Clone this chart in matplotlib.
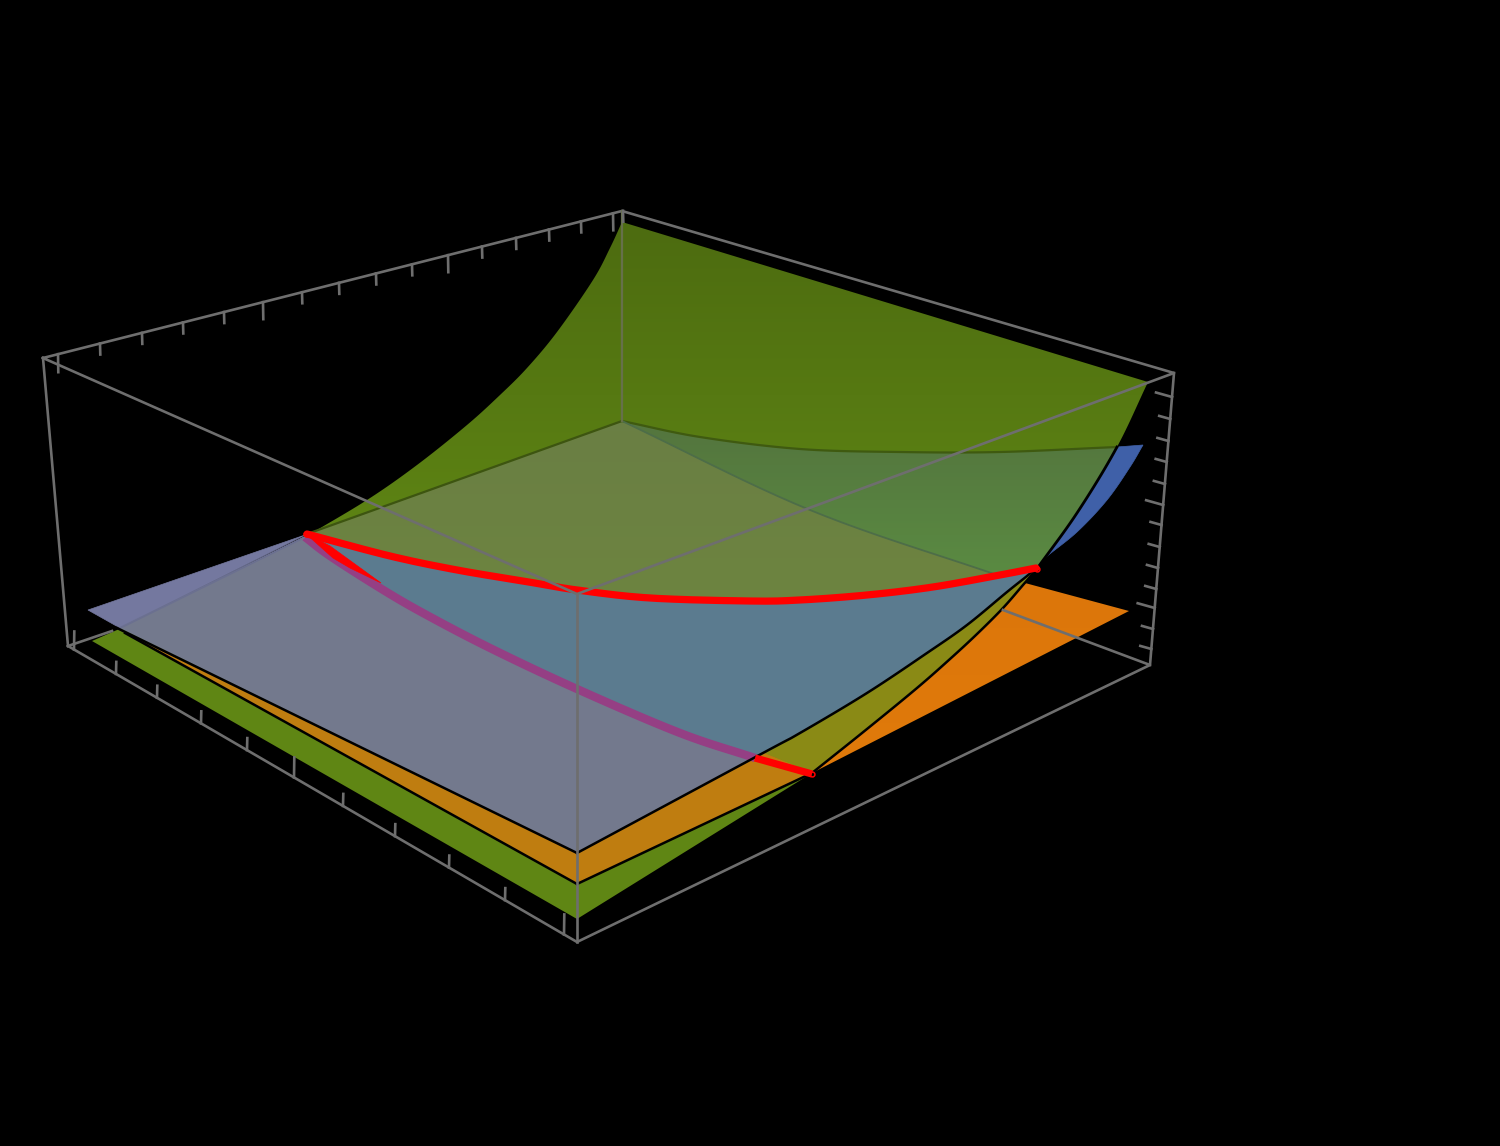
import numpy as np
import matplotlib
matplotlib.use('Agg')
import matplotlib.pyplot as plt
from matplotlib.colors import LinearSegmentedColormap
from matplotlib.patches import Polygon

# everything, in image pixels
red_top = [(307,534),(390,556),(457,570),(523,581),(577,590),(650,598),(750,601),(800,600),(867,595),(933,587),(1000,575),(1036,568)]
red_low = [(305,537),(330,556),(380,588),(423,613),(490,648),(577,689),(680,733),(755,758)]
red_end = [(755,758),(812,774)]
red_wedge = [(305,533),(330,546),(381,583),(350,568),(333,558)]
red_rings = [(1037,569),(812,774),(306,534)]
green_right_edge = [(1148,382),(1117,447),(1077,513),(1036,570)]
green_left_edge = [(305,537),(367,500),(417,465),(467,425),(500,395),(527,368),(557,332),(593,280),(610,248),(622,222)]
back_arc = [(622,421),(700,437),(800,449),(900,452),(1000,452),(1117,447)]
fold_line = [(622,421),(810,510),(1000,576)]
blue_front = [(577,853),(763,753),(800,733),(867,693),(927,653),(967,625),(1007,592),(1027,576),(1036,568)]
orange_curve = [(812,773),(867,729),(917,688),(950,659),(977,634),(1003,608),(1023,585),(1036,570)]
orange_far = [(1025,583),(1129,611),(812,773)]
blue_tail_out = [(1143,445),(1130,467),(1107,500),(1077,532),(1045,558),(1036,570)]
green_front = [(812,773),(577,919),(92,641),(117,630)]
band_left = [(117,628),(577,853),(577,884),(133,637)]
blue_tip = [(88,610),(305,535),(120,628)]
blue_main = [(120,628),(305,537)]

box_top = [(43,358),(622,211),(1174,373),(577,594),(43,358)]
box_bottom = [(68,646),(577,942),(1150,665),(1003,610)]
box_bottom_left = [(68,646),(112,631)]
box_sides = [((43,358),(68,646)),((1174,373),(1150,665)),((577,594),(577,942))]
box_back = [(622,211),(622,421)]

top_ticks_x = [58,100,142,183,224,263,302,339,376,412,448,482,516,549,581,613,623]
top_ticks_len = [18,11,11,11,11,17,11,11,11,11,17,11,11,11,11,17,11]
front_ticks_x = [74,116,157,201,247,294,343,395,449,505,564]
front_ticks_len = [18,12,12,12,12,20,12,12,12,12,20]
right_ticks_y = [397,419,441,462,484,505,525,547,568,589,608,629,649]
right_ticks_len = [16,11,11,11,11,17,11,11,11,11,17,11,11]

def smooth(pts, n=12):
    # catmull-rom through the read points so curves don't look like polylines
    p = np.array(pts, dtype=float)
    if len(p) < 3:
        return [tuple(q) for q in p]
    p = np.vstack([2*p[0]-p[1], p, 2*p[-1]-p[-2]])
    out = []
    for i in range(1, len(p)-2):
        for t in np.linspace(0, 1, n, endpoint=False):
            out.append(0.5*((2*p[i]) + (p[i+1]-p[i-1])*t
                + (2*p[i-1]-5*p[i]+4*p[i+1]-p[i+2])*t**2
                + (3*p[i]-p[i-1]-3*p[i+1]+p[i+2])*t**3))
    out.append(p[-2])
    return [tuple(q) for q in out]

def xy(pts):
    a = np.array(pts, dtype=float)
    return a[:,0], a[:,1]

def fill(ax, pts, color, z):
    ax.add_patch(Polygon(pts, closed=True, fc=color, ec=color, lw=0.5, zorder=z))

def gradient(ax, pts, c1, c2, y1, y2, z):
    cm = LinearSegmentedColormap.from_list('g', [c1, c2])
    g = np.clip((np.arange(1146) - y1) / (y2 - y1), 0, 1).reshape(-1, 1)
    im = ax.imshow(g, cmap=cm, vmin=0, vmax=1, extent=(0, 1500, 1146, 0), aspect='auto', zorder=z)
    im.set_clip_path(Polygon(pts, closed=True, transform=ax.transData))

s_top = smooth(red_top)
s_low = smooth(red_low)
s_right = smooth(green_right_edge)
s_left = smooth(green_left_edge)
s_arc = smooth(back_arc)
s_front = smooth(blue_front)
s_curve = smooth(orange_curve)
s_tail = smooth(blue_tail_out)
s_fold = smooth(fold_line)

fig = plt.figure(figsize=(15, 11.46), dpi=100, facecolor='black')
ax = fig.add_axes([0, 0, 1, 1])
ax.set_facecolor('black')

# green surface, whole outline first
green_all = [(622,222)] + s_right + s_curve[::-1] + green_front + s_left
gradient(ax, green_all, '#4d6c10', '#5f8614', 230, 560, 1)

fill(ax, [(1117,447)] + s_tail, '#3f60a8', 2)
gradient(ax, s_curve + orange_far, '#dc760b', '#e07a0a', 580, 770, 3)

# olive wedge and orange band at the front
fill(ax, s_front[12:] + s_curve[::-1], '#8a8a15', 4)
fill(ax, band_left, '#bf7d10', 4)
fill(ax, [(577,853),(763,753),(812,773),(577,884)], '#bf7d10', 4)

# part of the surface seen through the plane
arc_end = s_right[s_right.index(min(s_right, key=lambda q: abs(q[1]-447))):]
gradient(ax, s_fold + s_top[::-1], '#6a7f44', '#6d8440', 430, 590, 5)
gradient(ax, s_arc + arc_end + s_fold[::-1], '#54763e', '#5a8a42', 430, 570, 5)

# translucent plane
fill(ax, blue_tip, '#74789f', 6)
fill(ax, [blue_main[0]] + s_low + [(763,753),(577,853)], '#73798d', 6)
fill(ax, s_top + s_front[::-1] + [(763,753)] + s_low[::-1], '#5b7b8f', 6)
# the front edge below the red end belongs to the grey part
fill(ax, [(577,853),(763,753),(755,758),(577,690)], '#73798d', 6)

ax.plot(*xy(s_low), color='#953f84', lw=6, solid_capstyle='butt', zorder=7)
fill(ax, red_wedge, '#ff0000', 8)
ax.plot(*xy(s_top), color='#ff0000', lw=5.2, solid_capstyle='round', zorder=8)
ax.plot(*xy(red_end), color='#ff0000', lw=5.2, solid_capstyle='butt', zorder=8)
ax.plot(*xy(red_rings), ls='none', marker='o', ms=3.5, mfc='none', mec='#ff0000', mew=1.1, zorder=8)

# edges
ax.plot(*xy(blue_main), color='#6b7090', lw=1.5, zorder=7)
ax.plot(*xy(s_arc), color='#3f5a10', lw=1.6, zorder=7)
ax.plot(*xy([back_arc[0], red_top[0]]), color='#3d5510', lw=1.6, zorder=7)
ax.plot(*xy(s_fold), color='#4d6d48', lw=1.3, zorder=7)
ax.plot(*xy(arc_end), color='black', lw=2, zorder=7)
ax.plot(*xy(s_front), color='black', lw=1.8, zorder=7)
ax.plot(*xy(s_curve), color='black', lw=1.8, zorder=7)
ax.plot(*xy([(577,884), orange_curve[0]]), color='black', lw=1.8, zorder=7)
ax.plot(*xy([(117,628),(577,853)]), color='black', lw=1.8, zorder=7)
ax.plot(*xy([(125,633),(577,884)]), color='black', lw=1.8, zorder=7)

# box
gray = '#6e6e6e'
ax.plot(*xy(box_top), color=gray, lw=1.9, zorder=9)
ax.plot(*xy(box_bottom), color=gray, lw=1.9, zorder=9)
ax.plot(*xy(box_bottom_left), color=gray, lw=1.9, zorder=9)
for s in box_sides:
    ax.plot(*xy(s), color=gray, lw=1.9, zorder=9)
ax.plot(*xy(box_back), color='#66704a', lw=1.6, zorder=9)

# ticks sit on the box edges
for x, n in zip(top_ticks_x, top_ticks_len):
    y = 358 + (x - 43) * (211 - 358) / (622 - 43)
    ax.plot([x, x + 0.3], [y, y + n], color=gray, lw=1.9, zorder=9)
for x, n in zip(front_ticks_x, front_ticks_len):
    y = 646 + (x - 68) * (942 - 646) / (577 - 68)
    ax.plot([x, x + 0.3], [y, y - n], color=gray, lw=1.9, zorder=9)
for y, n in zip(right_ticks_y, right_ticks_len):
    x = 1174 + (y - 373) * (1150 - 1174) / (665 - 373)
    ax.plot([x, x - n], [y, y - n * 0.28], color=gray, lw=1.9, zorder=9)

ax.set_xlim(0, 1500)
ax.set_ylim(1146, 0)
ax.axis('off')
fig.savefig('out.png', dpi=100, facecolor='black')
